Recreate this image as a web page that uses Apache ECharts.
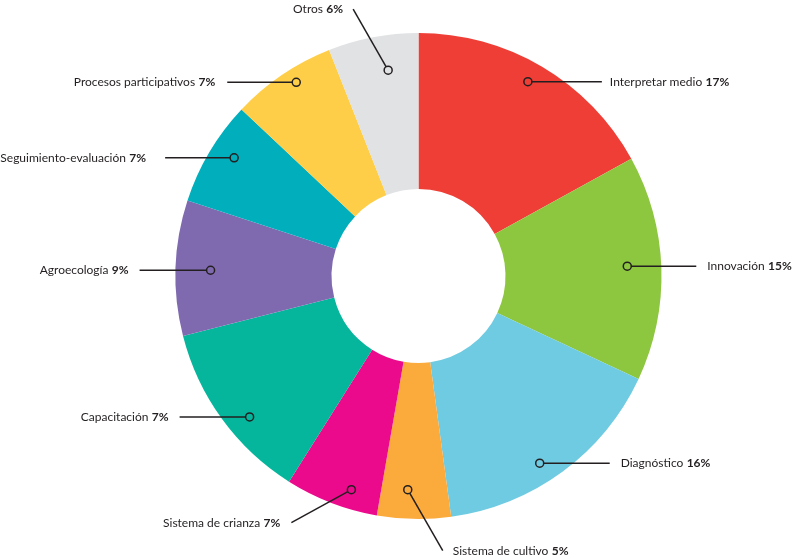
<!DOCTYPE html>
<html>
<head>
<meta charset="utf-8">
<style>
  html, body { margin: 0; padding: 0; background: #ffffff; }
  #chart { width: 794px; height: 559px; }
</style>
<script src="https://cdn.jsdelivr.net/npm/echarts@6/dist/echarts.min.js"></script>
</head>
<body>
<div id="chart"></div>
<script>
// ---- data ----
const categories = ['Interpretar medio', 'Innovación', 'Diagnóstico', 'Sistema de cultivo', 'Sistema de crianza',
  'Capacitación', 'Agroecología', 'Seguimiento-evaluación', 'Procesos participativos', 'Otros'];
const sliceValues = [17, 15, 15.9, 4.9, 6.2, 12.1, 9, 7, 7, 6];
const percentLabels = ['17%', '15%', '16%', '5%', '7%', '7%', '9%', '7%', '7%', '6%'];

// ---- styles / layout ----
const colors = ['#EF3E36', '#8DC63F', '#6FCBE1', '#FBAA3C', '#EB0A8C', '#05B69C', '#7F6AB0', '#00AEBC', '#FFCE48', '#E1E2E4'];
// marker dot placement: distance from the centre (px) and shift from the slice mid-angle (degrees)
const dotRadius = [223, 209, 223, 214, 224, 220, 208, 219, 229, 208];
const dotAngleShift = [-1.2, -0.8, 3.4, 1.8, -3.6, -3.8, -0.3, 2.0, 1.9, 2.4];
// label-line end offset (relative to its dot), gap between line and text, text alignment
const labelLayoutStyle = [
  { line: [74, 0], gap: 8, align: 'left' },
  { line: [69, 0], gap: 11, align: 'left' },
  { line: [70, 0], gap: 11, align: 'left' },
  { line: [35, 61], gap: 10, align: 'left' },
  { line: [-60, 33], gap: 11, align: 'right' },
  { line: [-70, 0], gap: 11, align: 'right' },
  { line: [-71, 0], gap: 11, align: 'right' },
  { line: [-69, 0], gap: 19, align: 'right' },
  { line: [-69, 0], gap: 12, align: 'right' },
  { line: [-35, -61], gap: 10, align: 'right' }
];
const CENTER = [418.5, 276];
const R_OUT = 243, R_IN = 87;
const TEXT = '#231F20';
const FONT = 'Lato';

const total = sliceValues.reduce((a, b) => a + b, 0);
let acc = 0;
const dotData = sliceValues.map((v, i) => {
  const mid = acc + v / 2 + dotAngleShift[i] * total / 360;
  acc += v;
  return [dotRadius[i], mid];
});

const chart = echarts.init(document.getElementById('chart'));
chart.setOption({
  animation: false,
  backgroundColor: '#ffffff',
  polar: { center: CENTER, radius: R_OUT },
  angleAxis: { type: 'value', min: 0, max: total, startAngle: 90, clockwise: true, show: false },
  radiusAxis: { type: 'value', min: 0, max: R_OUT, show: false },
  series: [
    {
      type: 'pie',
      center: CENTER,
      radius: [R_IN, R_OUT],
      startAngle: 90,
      clockwise: true,
      silent: true,
      label: { show: false },
      labelLine: { show: false },
      emphasis: { disabled: true },
      data: categories.map((c, i) => ({ name: c, value: sliceValues[i], itemStyle: { color: colors[i] } }))
    },
    {
      type: 'scatter',
      coordinateSystem: 'polar',
      symbol: 'circle',
      symbolSize: 8,
      silent: true,
      z: 5,
      itemStyle: { color: 'rgba(0,0,0,0)', borderColor: TEXT, borderWidth: 1.5, opacity: 1 },
      emphasis: { disabled: true },
      data: dotData.map((d, i) => ({
        value: d,
        label: { padding: [0, labelLayoutStyle[i].gap, 0, labelLayoutStyle[i].gap] }
      })),
      label: {
        show: true,
        position: 'right',
        backgroundColor: 'rgba(255,255,255,0)',
        formatter: p => '{n|' + categories[p.dataIndex] + '} {b|' + percentLabels[p.dataIndex] + '}',
        rich: {
          n: { fontFamily: FONT, fontSize: 12, color: TEXT },
          b: { fontFamily: FONT, fontSize: 12, color: TEXT, fontWeight: 'bold' }
        }
      },
      labelLine: { show: true, length2: 0, lineStyle: { color: TEXT, width: 1.5 } },
      labelLayout: function (params) {
        const s = labelLayoutStyle[params.dataIndex];
        const cx = params.rect.x + params.rect.width / 2;
        const cy = params.rect.y + params.rect.height / 2;
        return {
          x: cx + s.line[0],
          y: cy + s.line[1],
          align: s.align,
          verticalAlign: 'middle'
        };
      }
    }
  ]
});
</script>
</body>
</html>
